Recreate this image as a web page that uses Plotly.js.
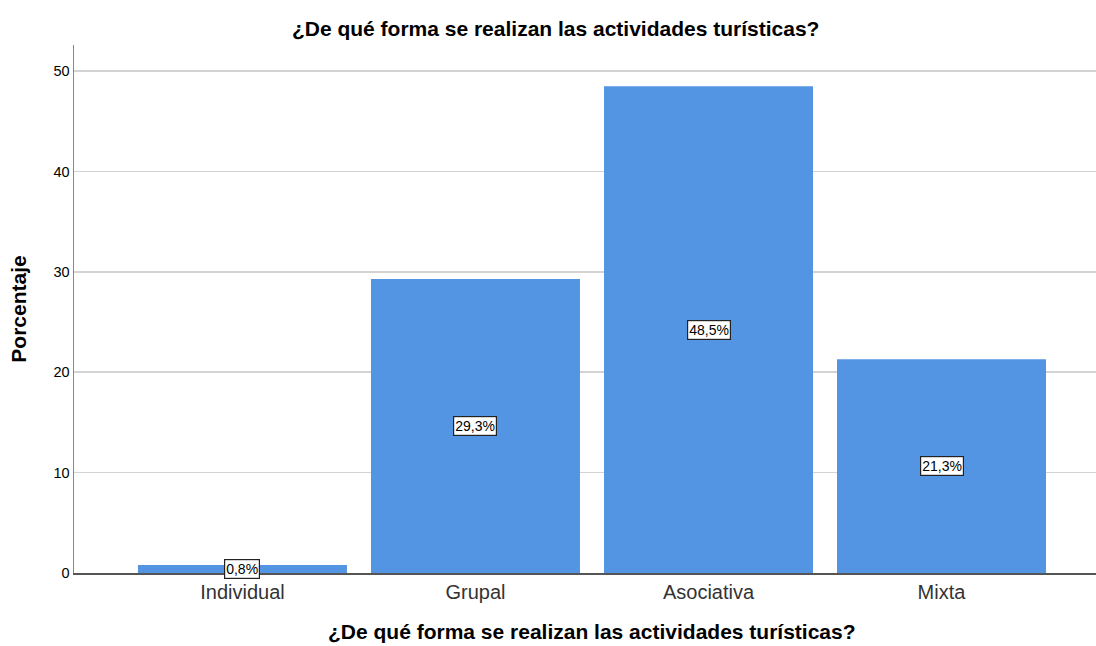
<!DOCTYPE html>
<html><head><meta charset="utf-8">
<script src="https://cdn.plot.ly/plotly-3.0.1.min.js"></script>
<style>body{margin:0;background:#fff}#c{width:1096px;height:646px}</style>
</head><body><div id="c"></div>
<script>
const categories = ["Individual", "Grupal", "Asociativa", "Mixta"];
const percentages = [0.8, 29.3, 48.5, 21.3];
const valueLabels = ["0,8%", "29,3%", "48,5%", "21,3%"];
const yTicks = [0, 10, 20, 30, 40, 50];
const titleText = "¿De qué forma se realizan las actividades turísticas?";

const font = "Liberation Sans, Arial, sans-serif";
const trace = {
  type: "bar", x: categories, y: percentages,
  marker: {color: "rgb(84,149,227)", line: {width: 0}},
  hoverinfo: "none"
};
const annotations = categories.map((c, i) => ({
  x: c, y: percentages[i] / 2, xref: "x", yref: "y",
  text: valueLabels[i], showarrow: false,
  font: {family: font, size: 14, color: "#000"},
  bgcolor: "#fff", bordercolor: "#222", borderwidth: 1.2, borderpad: 1
}));
annotations.push({
  xref: "paper", yref: "paper", x: 0.507, y: -0.111,
  xanchor: "center", yanchor: "middle", showarrow: false,
  text: "<b>" + titleText + "</b>", font: {family: font, size: 21, color: "#000"}
});
const layout = {
  width: 1096, height: 646,
  margin: {l: 74, r: 0, t: 45, b: 73},
  paper_bgcolor: "#fff", plot_bgcolor: "#fff",
  bargap: 0.103,
  showlegend: false,
  title: {text: "<b>" + titleText + "</b>", font: {family: font, size: 21, color: "#000"}, x: 0.507, xanchor: "center", y: 0.955, yanchor: "middle"},
  xaxis: {
    range: [-0.723, 3.663], type: "category",
    showgrid: false, zeroline: false,
    showline: true, linecolor: "#555", linewidth: 1.5,
    ticks: "", tickfont: {family: font, size: 20, color: "#333"}
  },
  yaxis: {
    range: [0, 52.6], tickvals: yTicks, ticktext: yTicks.map(String),
    showgrid: true, gridcolor: "#d3d3d3", gridwidth: 1.5,
    zeroline: false, showline: true, linecolor: "#888", linewidth: 1.5,
    ticks: "", ticklen: 0, tickfont: {family: font, size: 14.5, color: "#000"},
    title: {text: "<b>Porcentaje</b>", font: {family: font, size: 21, color: "#000"}, standoff: 21}
  },
  annotations: annotations
};
Plotly.newPlot("c", [trace], layout, {displayModeBar: false, staticPlot: true});
</script></body></html>
